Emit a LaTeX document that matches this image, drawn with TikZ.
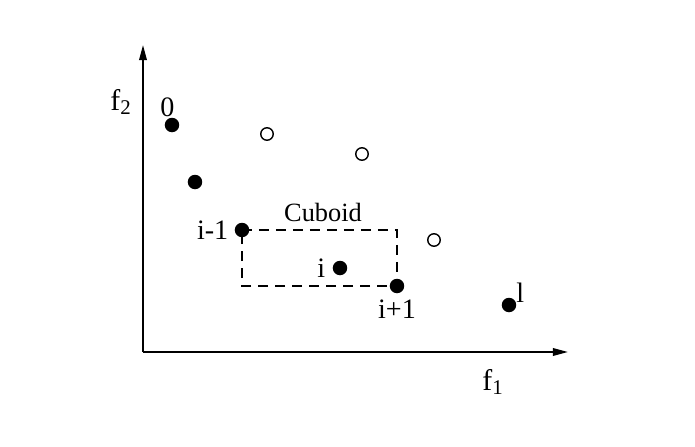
\documentclass[tikz,border=0pt]{standalone}
\usepackage{fontspec}
\setmainfont{Liberation Serif}
\usetikzlibrary{arrows.meta, positioning}

\tikzset{
  soln/.style={circle, fill=black, inner sep=0pt, minimum size=0.29cm},
  other/.style={circle, draw=black, line width=0.8pt, fill=white, inner sep=0pt, minimum size=0.25cm},
  lbl/.style={font=\fontsize{16}{18}\selectfont, inner sep=1pt}
}

\begin{document}
\begin{tikzpicture}
    \useasboundingbox (-2.86,-1.9) rectangle (11.04,7.04);
    % axes
    \coordinate (O) at (0,0);
    \coordinate (ytip) at (0,6.14);
    \coordinate (xtip) at (8.5,0);
    \draw[line width=1pt, -{Triangle[length=3mm,width=1.5mm]}] (O) -- (ytip);
    \draw[line width=1pt, -{Triangle[length=3mm,width=1.5mm]}] (O) -- (xtip);
    \node[lbl, font=\fontsize{17}{19}\selectfont] (f2) at (-0.44,5.0) {f\textsubscript{2}};
    \node[lbl, font=\fontsize{17}{19}\selectfont] (f1) at (7.0,-0.6) {f\textsubscript{1}};
    % front points
    \node[soln] (p0) at (0.58,4.54) {};
    \node[soln] (p1) at (1.04,3.40) {};
    \node[soln] (pim) at (1.98,2.44) {};
    \node[soln] (pi) at (3.94,1.68) {};
    \node[soln] (pip) at (5.08,1.32) {};
    \node[soln] (pl) at (7.32,0.94) {};
    % dominated points
    \node[other] (q1) at (2.48,4.36) {};
    \node[other] (q2) at (4.38,3.96) {};
    \node[other] (q3) at (5.82,2.24) {};
    % cuboid
    \draw[line width=1.1pt, dash pattern=on 0.2cm off 0.14cm]
        (pim.center) -- (pim.center -| pip.center) -- (pip.center)
        -- (pip.center -| pim.center) -- cycle;
    \node[lbl, font=\fontsize{15}{17}\selectfont] (cub) at (3.6,2.8) {Cuboid};
    % labels
    \node[lbl, above left=0.02cm and -0.2cm of p0] (l0) {0};
    \node[lbl, left=0.08cm of pim] (lim) {i-1};
    \node[lbl, left=0.1cm of pi] (li) {i};
    \node[lbl, below=0.08cm of pip] (lip) {i+1};
    \node[lbl, above right=-0.1cm and 0.0cm of pl] (ll) {l};
\end{tikzpicture}
\end{document}
